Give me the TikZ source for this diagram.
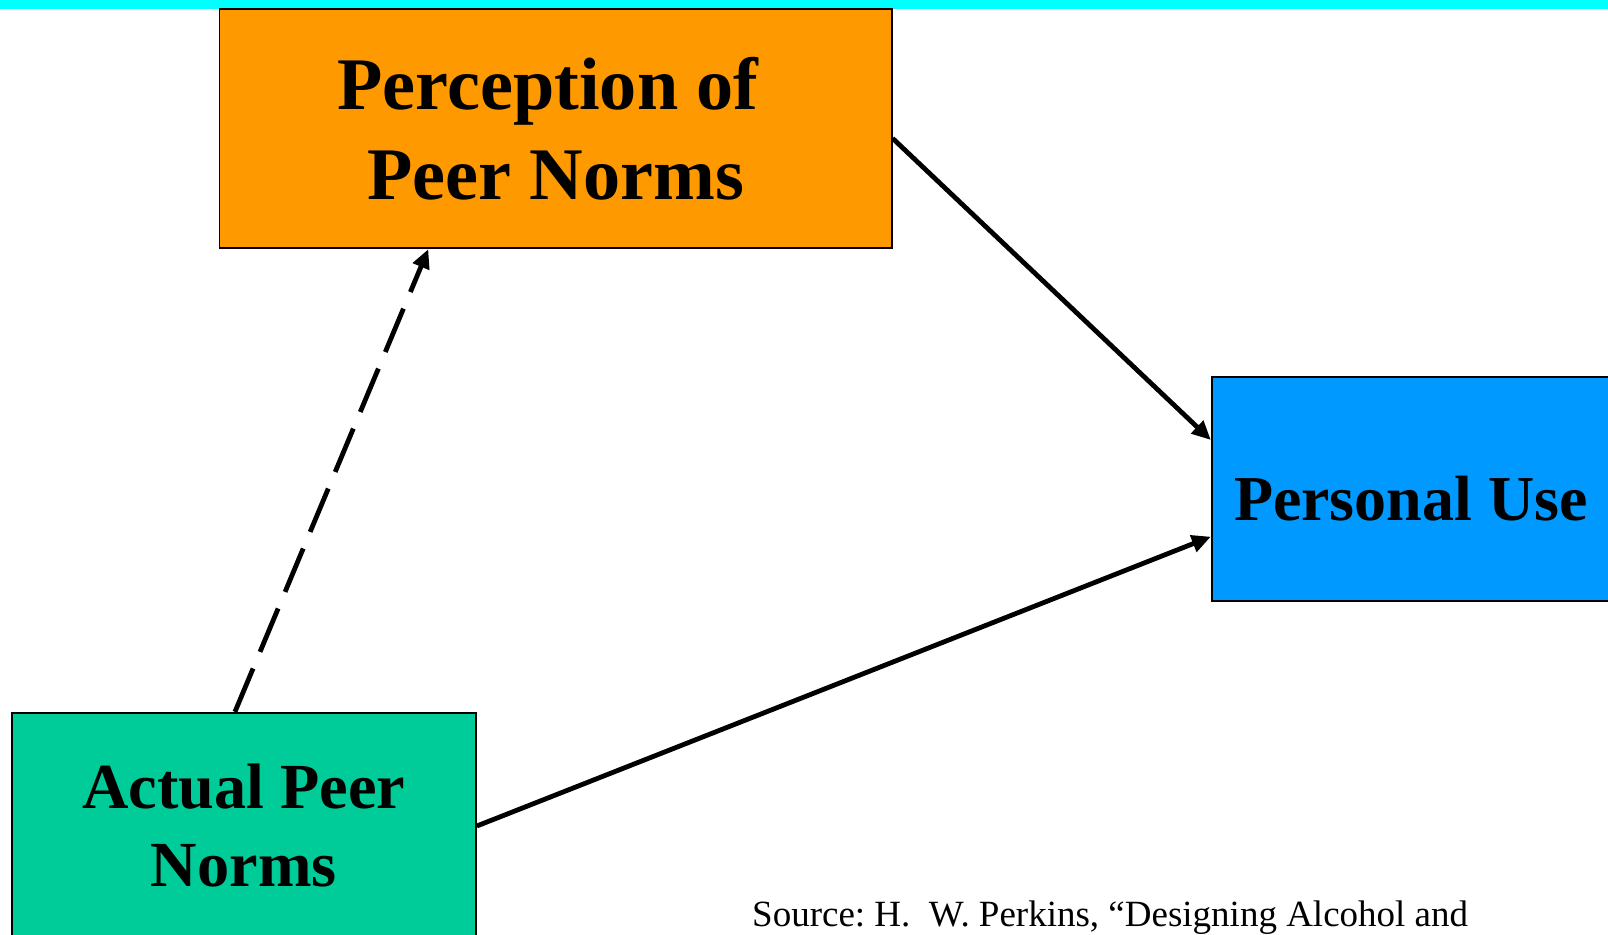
\documentclass[tikz,border=0pt]{standalone}
\usepackage{fontspec}
\setmainfont{Liberation Serif}
\usetikzlibrary{arrows.meta}

\definecolor{bandcyan}{HTML}{00FFFF}
\definecolor{percorange}{HTML}{FF9900}
\definecolor{useblue}{HTML}{0099FF}
\definecolor{actualgreen}{HTML}{00CC99}

\begin{document}
\frenchspacing
\begin{tikzpicture}[
  x=1pt, y=1pt,
  box/.style={draw, line width=1.7pt, inner sep=0pt, align=center},
  arr/.style={-{Triangle[length=19pt, width=17pt]}, line width=4.8pt},
  dasharr/.style={arr, dash pattern=on 47pt off 18pt}
]
\clip (0,0) rectangle (1608,934);
\useasboundingbox (0,0) rectangle (1608,934);

% ---------------- top band ----------------
\fill[bandcyan] (0,925.3) rectangle (1608,934);

% ---------------- boxes ----------------
\node[box, fill=percorange, minimum width=672.2pt, minimum height=239.6pt,
      font=\bfseries\fontsize{74.2}{90}\selectfont] (perception) at (555.6,805.5) {Perception of\hspace*{15pt}\\Peer Norms};
\node[box, fill=useblue, minimum width=398.3pt, minimum height=224pt, text height=64pt, text depth=0pt,
      font=\bfseries\fontsize{64}{77}\selectfont] (personal) at (1410.85,445.3) {Personal Use};
\node[box, fill=actualgreen, minimum width=464.3pt, minimum height=226.6pt,
      font=\bfseries\fontsize{64.3}{78}\selectfont] (actual) at (243.85,108) {Actual Peer\\Norms};

% ---------------- arrows ----------------
\draw[arr] ([yshift=-9.8pt]perception.east) -- ([yshift=48.7pt]personal.west);
\draw[arr] (actual.east) -- ([yshift=-48pt]personal.west);
\draw[dasharr] ([xshift=-8.9pt]actual.north) -- ([xshift=-127.3pt]perception.south);

% source line, cut by the page edge
\node[anchor=base west, inner sep=0pt, font=\fontsize{37}{44}\selectfont] (source) at (752,7.3)
  {Source: H.\ \ W. Perkins, “Designing Alcohol and};

\end{tikzpicture}
\end{document}
